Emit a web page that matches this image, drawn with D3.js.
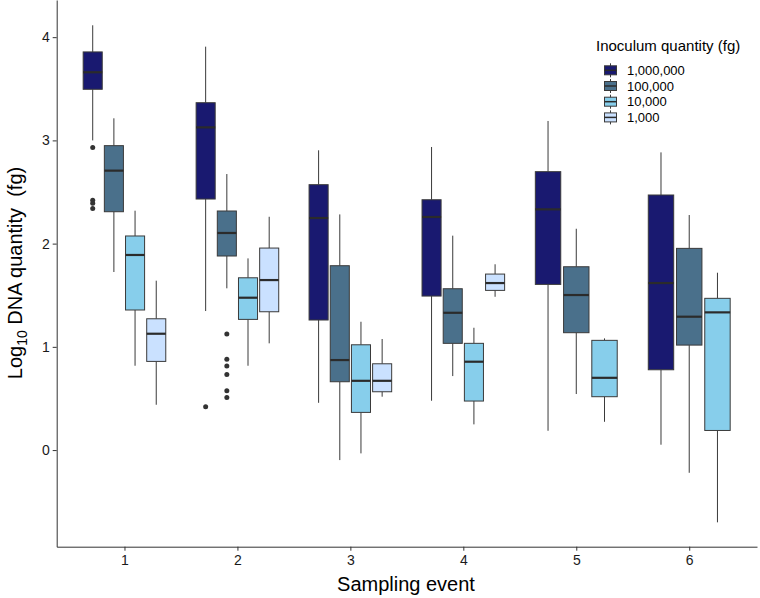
<!DOCTYPE html>
<html>
<head>
<meta charset="utf-8">
<style>
    body { margin: 0; background: #fff; }
    svg { display: block; font-family: 'Liberation Sans', Arial, sans-serif; }
    .axis .domain { stroke: #333; stroke-width: 1px; }
    .axis .tick line { stroke: #333; stroke-width: 1px; }
</style>
</head>
<body>
<svg width="760" height="598"></svg>

<script src="https://d3js.org/d3.v7.min.js"></script>
<script>
    // sampling events and inoculum levels
    let events = [1, 2, 3, 4, 5, 6];
    let quantities = ["1,000,000", "100,000", "10,000", "1,000"];
    let fills = ["#191970", "#4a708b", "#87ceeb", "#cae1ff"];
    let yTicks = [0, 1, 2, 3, 4];

    // [lower whisker, q1, median, q3, upper whisker] per sampling event, null = no box
    let stats1e6 = [
        [3.00, 3.495, 3.66, 3.857, 4.115],
        [1.347, 2.432, 3.126, 3.365, 3.908],
        [0.458, 1.26, 2.248, 2.571, 2.904],
        [0.478, 1.492, 2.258, 2.425, 2.936],
        [0.187, 1.605, 2.332, 2.697, 3.188],
        [0.052, 0.778, 1.618, 2.471, 2.884]
    ];
    let stats1e5 = [
        [1.725, 2.309, 2.707, 2.949, 3.214],
        [1.567, 1.88, 2.103, 2.316, 2.674],
        [-0.097, 0.662, 0.872, 1.786, 2.283],
        [0.717, 1.034, 1.33, 1.563, 2.077],
        [0.543, 1.137, 1.502, 1.776, 2.144],
        [-0.22, 1.017, 1.292, 1.954, 2.277]
    ];
    let stats1e4 = [
        [0.817, 1.357, 1.89, 2.074, 2.319],
        [0.817, 1.266, 1.476, 1.669, 1.857],
        [-0.032, 0.365, 0.671, 1.02, 1.243],
        [0.249, 0.475, 0.856, 1.034, 1.185],
        [0.274, 0.517, 0.70, 1.063, 1.082],
        [-0.70, 0.19, 1.334, 1.47, 1.718]
    ];
    let stats1e3 = [
        [0.439, 0.859, 1.127, 1.272, 1.641],
        [1.034, 1.34, 1.647, 1.957, 2.26],
        [0.517, 0.565, 0.671, 0.836, 1.076],
        [1.485, 1.547, 1.618, 1.705, 1.80],
        null,
        null
    ];

    // outlying points per sampling event
    let out1e6 = [[2.93, 2.42, 2.39, 2.34], [0.42], [], [], [], []];
    let out1e5 = [[], [1.124, 0.879, 0.814, 0.733, 0.574, 0.51], [], [], [], []];
    let out1e4 = [[], [], [], [], [], []];
    let out1e3 = [[], [], [], [], [], []];

    let allStats = [stats1e6, stats1e5, stats1e4, stats1e3];
    let allOut = [out1e6, out1e5, out1e4, out1e3];

    let svg = d3.select("svg");

    let x = d3.scaleLinear().domain([0.4, 6.6]).range([56.7, 757]);
    let y = d3.scaleLinear().domain([-0.936, 4.36]).range([546.7, 0]);

    // build box table with dodge positions
    let boxes = [];
    events.forEach(function (ev, ei) {
        let present = [];
        allStats.forEach(function (s, qi) { if (s[ei]) present.push(qi); });
        let n = present.length;
        let slot = 0.75 / n;
        present.forEach(function (qi, k) {
            let s = allStats[qi][ei];
            boxes.push({
                event: ev, qi: qi,
                center: ev + (k - (n - 1) / 2) * slot,
                half: slot * 0.9 / 2,
                lo: s[0], q1: s[1], med: s[2], q3: s[3], hi: s[4],
                out: allOut[qi][ei]
            });
        });
    });

    // axes
    let yAxis = svg.append("g")
        .attr("class", "axis")
        .attr("transform", "translate(56.7,0)")
        .call(d3.axisLeft(y).tickValues(yTicks).tickSize(4).tickPadding(3)
            .tickSizeOuter(0).tickFormat(d3.format("d")));

    let xAxis = svg.append("g")
        .attr("class", "axis")
        .attr("transform", "translate(0,546.7)")
        .call(d3.axisBottom(x).tickValues(events).tickSize(4).tickPadding(4)
            .tickSizeOuter(0).tickFormat(d3.format("d")));

    [yAxis, xAxis].forEach(function (a) {
        a.attr("font-family", null).attr("font-size", null);
        a.selectAll(".tick text")
            .style("font-size", "14px")
            .style("fill", "#1a1a1a");
    });

    let g = svg.append("g");

    let b = g.selectAll(".box")
        .data(boxes)
        .join("g")
        .attr("class", "box");

    b.append("line")
        .attr("x1", d => x(d.center)).attr("x2", d => x(d.center))
        .attr("y1", d => y(d.hi)).attr("y2", d => y(d.q3))
        .style("stroke", "#3a3a3a").style("stroke-width", "1px");

    b.append("line")
        .attr("x1", d => x(d.center)).attr("x2", d => x(d.center))
        .attr("y1", d => y(d.q1)).attr("y2", d => y(d.lo))
        .style("stroke", "#3a3a3a").style("stroke-width", "1px");

    b.append("rect")
        .attr("x", d => x(d.center - d.half))
        .attr("width", d => x(d.center + d.half) - x(d.center - d.half))
        .attr("y", d => y(d.q3))
        .attr("height", d => y(d.q1) - y(d.q3))
        .style("fill", d => fills[d.qi])
        .style("stroke", "#3a3a3a")
        .style("stroke-width", "1px");

    b.append("line")
        .attr("x1", d => x(d.center - d.half)).attr("x2", d => x(d.center + d.half))
        .attr("y1", d => y(d.med)).attr("y2", d => y(d.med))
        .style("stroke", "#2b2b2b").style("stroke-width", "2.2px");

    b.selectAll("circle")
        .data(d => d.out.map(v => ({ c: d.center, v: v })))
        .join("circle")
        .attr("cx", d => x(d.c))
        .attr("cy", d => y(d.v))
        .attr("r", 2.5)
        .style("fill", "#333");

    // axis titles
    svg.append("text")
        .attr("x", 406)
        .attr("y", 591)
        .attr("text-anchor", "middle")
        .style("font-size", "20px")
        .style("fill", "#000")
        .text("Sampling event");

    let yl = svg.append("text")
        .attr("transform", "translate(22,273) rotate(-90)")
        .attr("text-anchor", "middle")
        .style("font-size", "20px")
        .style("fill", "#000");
    yl.append("tspan").text("Log");
    yl.append("tspan").attr("dy", 5).style("font-size", "14px").text("10");
    yl.append("tspan").attr("dy", -5).text(" DNA quantity\u00a0 (fg)");

    // legend
    let legend = svg.append("g").attr("transform", "translate(596,0)");
    legend.append("text")
        .attr("x", 0).attr("y", 51)
        .style("font-size", "15px")
        .style("fill", "#000")
        .text("Inoculum quantity (fg)");

    let item = legend.selectAll(".item")
        .data(quantities)
        .join("g")
        .attr("class", "item")
        .attr("transform", (d, i) => `translate(0, ${70.3 + i * 15.7})`);

    item.append("line")
        .attr("x1", 14.5).attr("x2", 14.5).attr("y1", -7).attr("y2", 7)
        .style("stroke", "#3a3a3a").style("stroke-width", "1px");
    item.append("rect")
        .attr("x", 8.5).attr("y", -4.5).attr("width", 12).attr("height", 9)
        .style("fill", (d, i) => fills[i])
        .style("stroke", "#3a3a3a").style("stroke-width", "1px");
    item.append("line")
        .attr("x1", 8.5).attr("x2", 20.5).attr("y1", 0).attr("y2", 0)
        .style("stroke", "#2b2b2b").style("stroke-width", "1.5px");
    item.append("text")
        .attr("x", 31).attr("y", 0).attr("dy", "0.36em")
        .style("font-size", "13px")
        .style("fill", "#000")
        .text(d => d);
</script>
</body>
</html>
